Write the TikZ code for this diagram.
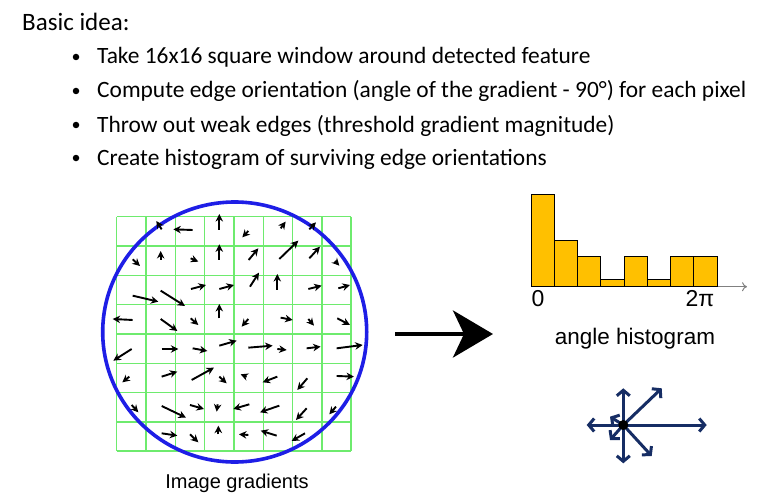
\documentclass[tikz,border=0pt]{standalone}
\usepackage{fontspec}
\setmainfont{Carlito}
\newfontfamily\arialf{Liberation Sans}
\usetikzlibrary{arrows.meta}
\definecolor{gridgreen}{RGB}{110,235,110}
\definecolor{circblue}{RGB}{30,30,230}
\definecolor{bargold}{RGB}{255,192,0}
\definecolor{navy}{RGB}{22,45,100}
\tikzset{
  bodytext/.style={anchor=base west, inner sep=0pt, font=\fontsize{23.4}{23.4}\selectfont},
  bulletdot/.style={circle, fill=black, inner sep=0pt, minimum size=6.5pt},
  gridline/.style={draw=gridgreen, line width=1.4pt},
  gradarrow/.style={draw=black, line width=1.9pt, -{Stealth[length=7.5pt,width=7.5pt]}},
  bar/.style={draw=black, fill=bargold, line width=0.9pt},
  starrow/.style={draw=navy, line width=3pt, -{Straight Barb[length=5.5pt,width=13pt]}},
  labeltext/.style={inner sep=0pt, font=\arialf\fontsize{20}{20}\selectfont},
}
\begin{document}
\begin{tikzpicture}[x=1pt,y=-1pt]
\useasboundingbox (0,0) rectangle (773,500);
\fill[white] (0,0) rectangle (773,500);
% title and bullets
\node[bodytext, font=\fontsize{25}{25}\selectfont] (title) at (22,31) {Basic idea:};
\node[bulletdot] (b1) at (76,57) {};
\node[bulletdot] (b2) at (76,91) {};
\node[bulletdot] (b3) at (76,125) {};
\node[bulletdot] (b4) at (76,158) {};
\node[bodytext] (t1) at (97,64) {Take 16x16 square window around detected feature};
\node[bodytext] (t2) at (97,98) {Compute edge orientation (angle of the gradient - 90°) for each pixel};
\node[bodytext] (t3) at (97,132) {Throw out weak edges (threshold gradient magnitude)};
\node[bodytext] (t4) at (97,165) {Create histogram of surviving edge orientations};
% grid
\foreach \i in {0,...,8} {
  \draw[gridline] ({116.7+29.3*\i},216.7) -- ({116.7+29.3*\i},451);
  \draw[gridline] (116.7,{216.7+29.3*\i}) -- (351,{216.7+29.3*\i});
}
% circle
\draw[circblue, line width=3.6pt] (234.7,332) ellipse [x radius=132, y radius=130];
% gradient arrows (in 1/3 px units)
\begin{scope}[shift={(90,195)}, x=0.3333pt, y=-0.3333pt]
\foreach \ax/\ay/\bx/\by in {
 215/103/199/78, 308/105/250/103, 388/105/388/57, 475/108/457/127, 572/100/587/80, 658/103/678/82,
 128/193/150/213, 212/195/212/168, 302/190/325/200, 388/195/388/148, 476/195/505/160, 568/192/625/137, 658/190/690/155, 735/198/748/212,
 128/302/205/320, 212/287/285/333, 303/282/348/270, 388/282/432/270, 480/275/507/233, 562/285/562/237, 655/282/695/272, 745/280/780/270,
 128/375/68/372, 212/372/262/408, 302/370/325/390, 388/370/388/327, 475/372/455/395, 572/368/608/375, 655/372/672/392, 742/370/780/390,
 125/462/70/497, 215/462/265/462, 308/460/352/468, 388/452/440/437, 475/458/548/452, 562/462/590/465, 650/460/692/455, 740/460/818/450,
 118/545/97/562, 215/545/262/530, 305/555/372/518, 388/545/410/565, 470/545/452/538, 562/545/518/562, 652/550/622/585, 740/543/792/545,
 125/630/145/652, 215/633/288/668, 300/630/342/642, 383/628/380/650, 478/628/430/642, 568/632/510/652, 650/640/618/675, 738/635/718/658,
 215/715/262/722, 300/718/325/742, 385/718/385/692, 475/720/447/718, 560/722/512/707, 645/715/605/738}
 { \draw[gradarrow] (\ax,\ay) -- (\bx,\by); }
\end{scope}
\node[labeltext] (imglabel) at (237,483) {Image gradients};
% big arrow
\coordinate (ba) at (395,334);
\coordinate (bb) at (493,334);
\draw[line width=4.2pt, -{Stealth[length=40pt,width=47pt,inset=11pt]}] (ba) -- (bb);
% histogram
\coordinate (axs) at (531,286.7);
\coordinate (axe) at (747,286.7);
\draw[gray, line width=1pt, -{To[length=5pt,width=9pt]}] (axs) -- (axe);
\foreach \xa/\xb/\top in {531/554.3/194, 554.3/577.7/240.7, 577.7/600.7/256, 600.7/624/279, 624/647.3/256, 647.3/670.3/279, 670.3/693.7/256, 693.7/717/256}
  { \draw[bar] (\xa,286.7) rectangle (\xb,\top); }
\node[labeltext, font=\arialf\fontsize{23}{23}\selectfont, anchor=base] (zero) at (538,306) {0};
\node[labeltext, font=\arialf\fontsize{23}{23}\selectfont, anchor=base] (twopi) at (700,306) {2π};
\node[labeltext, font=\arialf\fontsize{22.5}{22.5}\selectfont] (anglelabel) at (635,339) {angle histogram};
% star of orientations
\coordinate (c) at (623.3,425);
\coordinate (s1) at (623.3,388.3);
\coordinate (s2) at (623.3,463.3);
\coordinate (s3) at (586.7,425);
\coordinate (s4) at (706.7,425);
\coordinate (s5) at (661.7,388.3);
\coordinate (s6) at (651.7,456);
\coordinate (s7) at (610,416.7);
\coordinate (s8) at (610,440);
\foreach \t in {s1,s2,s3,s4,s5,s6,s7,s8} { \draw[starrow] (c) -- (\t); }
\fill[black] (c) circle (5pt);
\end{tikzpicture}
\end{document}
